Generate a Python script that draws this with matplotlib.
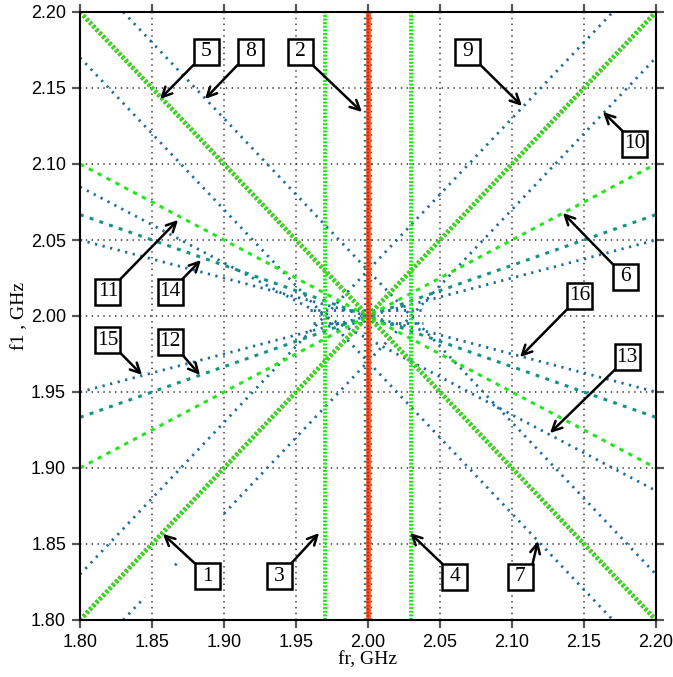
import matplotlib
matplotlib.use("Agg")
import matplotlib.pyplot as plt
from matplotlib.patches import Rectangle
from matplotlib.transforms import ScaledTranslation

plt.rcParams['lines.scale_dashes'] = False

# ---------------- data (GHz) ----------------
# main green lines through the centre
green_thick_fr = [[1.80, 2.20], [1.80, 2.20]]
green_thick_f1 = [[1.80, 2.20], [2.20, 1.80]]
green_half_fr = [[1.80, 2.20], [1.80, 2.20]]
green_half_f1 = [[1.90, 2.10], [2.10, 1.90]]
green_vert_fr = [1.97, 2.03]
red_vert_fr = [2.00]
# teal lines (slope +-1/3)
teal_fr = [[1.80, 2.20], [1.80, 2.20]]
teal_f1 = [[1.9333, 2.0667], [2.0667, 1.9333]]
# blue offset lines
blue_fr = [[1.80, 2.17], [1.83, 1.845], [1.866, 1.868], [1.90, 2.20],
           [1.83, 2.20], [1.80, 2.17],
           [1.80, 2.20], [1.80, 2.20], [1.80, 2.20],
           [1.960, 2.040], [1.962, 2.038]]
blue_f1 = [[1.83, 2.20], [1.80, 1.815], [1.836, 1.838], [1.87, 2.17],
           [2.20, 1.83], [2.17, 1.80],
           [1.95, 2.05], [2.05, 1.95], [2.085, 1.885],
           [2.004, 2.004], [1.9955, 1.9955]]

# annotation labels: (text, box centre fr, f1, arrow tip fr, f1, box corner)
ann_text = ['1', '3', '4', '7', '5', '8', '2', '9', '10', '6', '16', '13',
            '11', '14', '15', '12']
ann_box_fr = [1.8882, 1.9382, 2.0604, 2.1056, 1.8875, 1.9181, 1.9528, 2.0694,
              2.1854, 2.1785, 2.1472, 2.1799, 1.8194, 1.8625, 1.8194, 1.8625]
ann_box_f1 = [1.8289, 1.8289, 1.8283, 1.8283, 2.1737, 2.1737, 2.1737, 2.1737,
              2.1132, 2.0257, 2.0132, 1.9730, 2.0158, 2.0158, 1.9842, 1.9829]
ann_tip_fr = [1.8576, 1.9660, 2.0292, 2.1180, 1.8556, 1.8868, 1.9958, 2.1069,
              2.1632, 2.1354, 2.1056, 2.1264, 1.8681, 1.8840, 1.8431, 1.8833]
ann_tip_f1 = [1.8566, 1.8572, 1.8572, 1.8520, 2.1428, 2.1428, 2.1342, 2.1382,
              2.1342, 2.0678, 1.9730, 1.9230, 2.0632, 2.0368, 1.9612, 1.9612]
ann_corner = ['tl', 'tr', 'tl', 'tr', 'bl', 'bl', 'br', 'br',
              'tl', 'tl', 'bl', 'bl', 'tr', 'tr', 'br', 'br']

ticks = [1.80, 1.85, 1.90, 1.95, 2.00, 2.05, 2.10, 2.15, 2.20]
tick_labels = ['1.80', '1.85', '1.90', '1.95', '2.00', '2.05', '2.10', '2.15', '2.20']

# ---------------- figure ----------------
W, H = 673, 677
fig = plt.figure(figsize=(W / 100, H / 100), dpi=100)
ax = fig.add_axes([80 / W, 57 / H, 576 / W, 608 / H])
ax.set_xlim(1.80, 2.20)
ax.set_ylim(1.80, 2.20)

# grid
for t in ticks[1:-1]:
    ax.plot([t, t], [1.80, 2.20], color='#333333', lw=1.1, dashes=(1.0, 3.2), zorder=1)
    ax.plot([1.80, 2.20], [t, t], color='#333333', lw=1.1, dashes=(1.0, 3.2), zorder=1)

blue = '#1a6c9e'
teal = '#139484'
green = '#22e61e'

for xs, ys in zip(blue_fr, blue_f1):
    ax.plot(xs, ys, color=blue, lw=2.0, dashes=(1.6, 4.0), zorder=3)
for xs, ys in zip(teal_fr, teal_f1):
    ax.plot(xs, ys, color=teal, lw=2.2, dashes=(2.8, 4.6), zorder=3)
for xs, ys in zip(green_half_fr, green_half_f1):
    ax.plot(xs, ys, color=green, lw=2.2, dashes=(3.2, 4.0), zorder=4)
for xs, ys in zip(green_thick_fr, green_thick_f1):
    ax.plot(xs, ys, color='#7c9a2c', lw=3.4, dashes=(2.0, 1.4), zorder=4)
    ax.plot(xs, ys, color=green, lw=2.6, dashes=(1.8, 1.6), dash_capstyle='butt',
            zorder=5)
for x in green_vert_fr:
    ax.plot([x, x], [1.80, 2.20], color=green, lw=2.8, dashes=(1.5, 1.1), zorder=5)
for x in red_vert_fr:
    ax.plot([x, x], [1.80, 2.20], color=blue, lw=6.0, dashes=(1.2, 3.0), zorder=5)
    ax.plot([x, x], [1.80, 2.20], color='#f05a22', lw=3.4, zorder=6)
    ax.plot([x, x], [1.80, 2.20], color='#d81a0c', lw=1.6, dashes=(1.2, 1.2), zorder=6)

# ticks / spines
ax.set_xticks(ticks)
ax.set_yticks(ticks)
ax.set_xticklabels(tick_labels)
ax.set_yticklabels(tick_labels)
ax.tick_params(direction='out', length=6, width=1.6, color='#555555',
               top=True, right=True, labelsize=13, pad=4)
for lab in ax.get_xticklabels() + ax.get_yticklabels():
    lab.set_fontfamily('Liberation Sans')
for s in ax.spines.values():
    s.set_linewidth(1.5)
    s.set_zorder(10)

ax.set_xlabel('fr, GHz', family='Liberation Serif', fontsize=14, labelpad=0)
ax.set_ylabel('f1 , GHz', family='Liberation Serif', fontsize=14, labelpad=2)

# annotation boxes and arrows
bw, bh = 0.25, 0.26  # inches
hx = 12.5 * 0.4 / 576
hy = 13.0 * 0.4 / 608
for t, bx, by, tx, ty, c in zip(ann_text, ann_box_fr, ann_box_f1,
                               ann_tip_fr, ann_tip_f1, ann_corner):
    tr = fig.dpi_scale_trans + ScaledTranslation(bx, by, ax.transData)
    ax.add_patch(Rectangle((-bw / 2, -bh / 2), bw, bh, transform=tr,
                           facecolor='white', edgecolor='black', lw=1.8,
                           zorder=20, clip_on=False))
    ax.text(bx, by, t, ha='center', va='center', family='Liberation Serif',
            fontsize=15.5, zorder=21)
    cx = bx - hx if c[1] == 'l' else bx + hx
    cy = by + hy if c[0] == 't' else by - hy
    ax.annotate('', xy=(tx, ty), xytext=(cx, cy),
                arrowprops=dict(arrowstyle='->,head_length=0.7,head_width=0.35',
                                lw=1.8, color='black', shrinkA=0, shrinkB=0),
                zorder=19)

fig.savefig('out.png', dpi=100)
